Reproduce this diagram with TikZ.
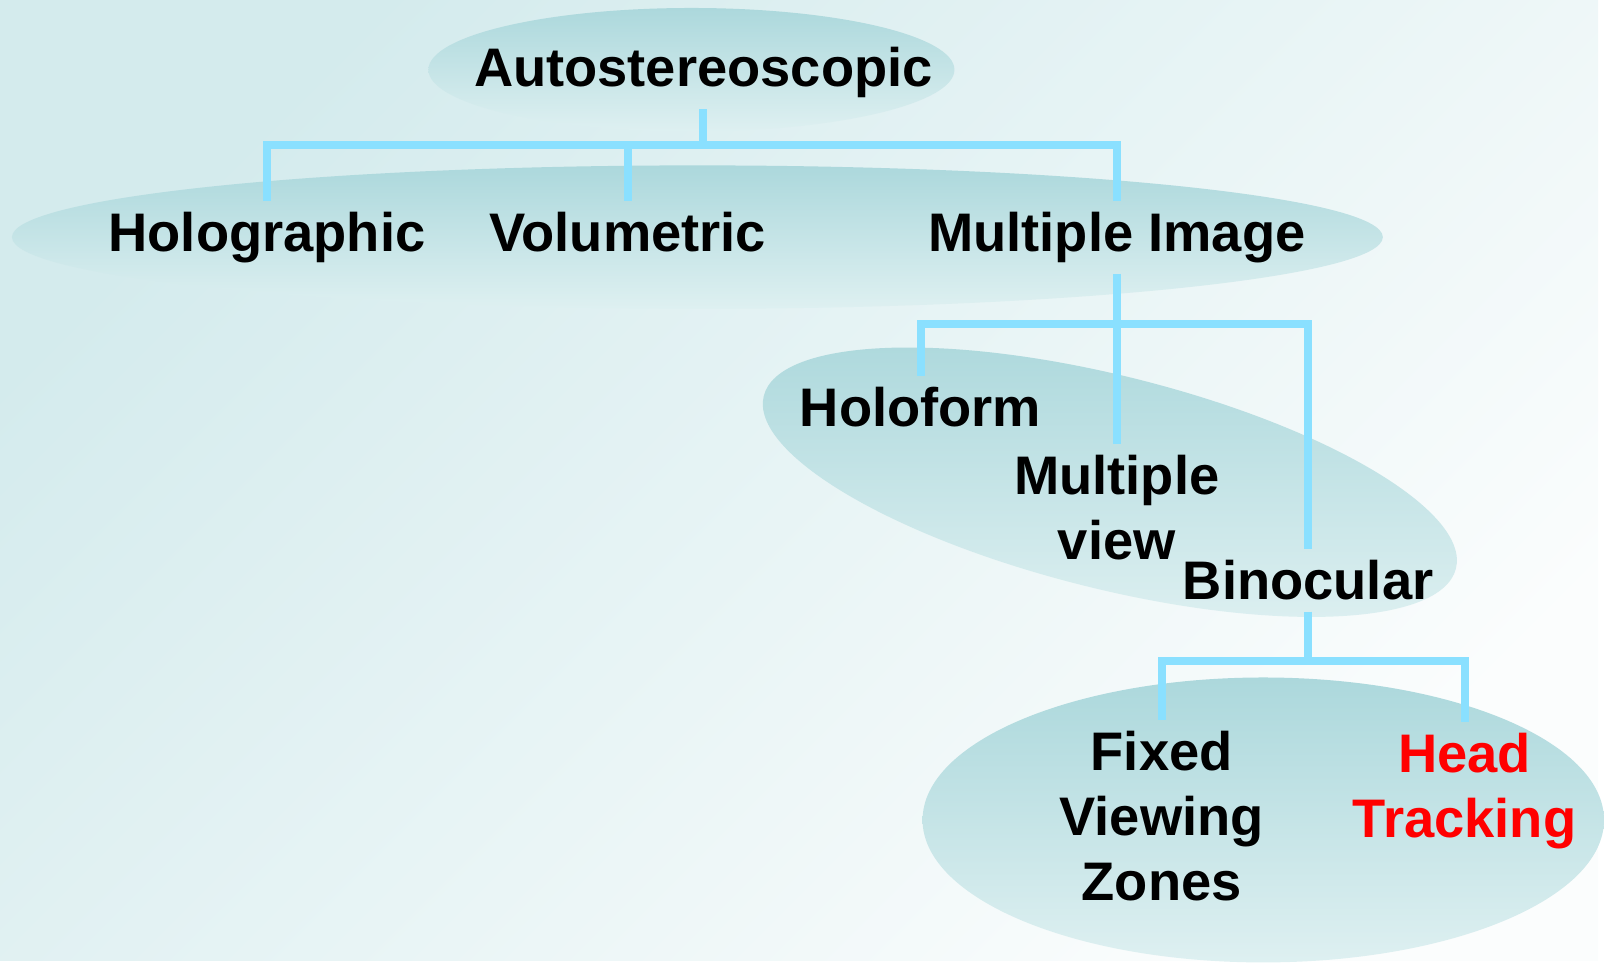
\documentclass[tikz,border=0pt]{standalone}
\usepackage{fontspec}
\setmainfont{Liberation Sans}

\definecolor{linkblue}{RGB}{138,224,255}
\definecolor{ovaltop}{RGB}{172,216,220}
\definecolor{ovalbot}{RGB}{222,240,241}
\definecolor{bgtop}{RGB}{212,235,237}
\definecolor{bgbot}{RGB}{251,253,253}
\definecolor{hilite}{RGB}{255,0,0}

\tikzset{
  lbl/.style={font=\fontsize{15.5pt}{18.6pt}\selectfont\bfseries, inner sep=3pt, align=center, anchor=base},
  link/.style={draw=linkblue, line width=2.3pt},
  oval/.style={top color=ovaltop, bottom color=ovalbot},
}

\begin{document}
\begin{tikzpicture}[x=0.01cm, y=-0.01cm]

% BACKGROUND
\shade [top color=bgtop, bottom color=bgbot, shading angle=45] (0,0) rectangle (1604,964);

% OVALS
\shade [oval] (694,70) ellipse [x radius=264, y radius=62];
\shade [oval] (700,238) ellipse [x radius=688, y radius=72];
\shade [oval, rotate around={-14:(1114,484)}] (1114,484) ellipse [x radius=358, y radius=107];
\shade [oval] (1268,823) ellipse [x radius=342, y radius=143];

% LABELS (base = last line)
\node [lbl] (auto) at (706,87) {Autostereoscopic};
\node [lbl] (holo) at (268,252) {Holographic};
\node [lbl] (volu) at (630,252) {Volumetric};
\node [lbl] (mimg) at (1121,252) {Multiple Image};
\node [lbl] (holf) at (924,428) {Holoform};
\node [lbl] (mview) at (1121,562) {Multiple\\view};
\node [lbl] (bino) at (1313,602) {Binocular};
\node [lbl] (fixd) at (1166,904) {Fixed\\Viewing\\Zones};
\node [lbl, text=hilite] (head) at (1470,841) {Head\\Tracking};

% LINKS
\coordinate (j1) at (706,146);
\coordinate (j2) at (1121,325);
\coordinate (j3) at (1313,663);
\draw [link] (auto.south) -- (j1);
\draw [link] (holo.north) |- (j1) -| (mimg.north);
\draw [link] (volu.north) -- (volu.north |- j1);
\draw [link] (mimg.south) -- (mview.north);
\draw [link] (holf.north) |- (j2) -| (bino.north);
\draw [link] (bino.south) -- (j3);
\draw [link] (fixd.north) |- (j3) -| (head.north);

\end{tikzpicture}
\end{document}
